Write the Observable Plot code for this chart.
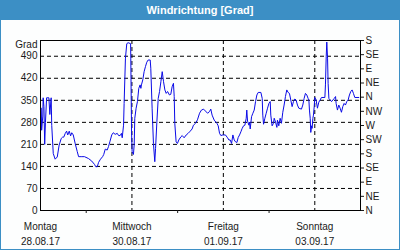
<!DOCTYPE html>
<html><head><meta charset="utf-8">
<script src="https://cdn.jsdelivr.net/npm/d3@7"></script>
<script src="https://cdn.jsdelivr.net/npm/@observablehq/plot@0.6"></script>
<style>
html,body{margin:0;padding:0;background:#fff;}
#wrap{position:relative;width:400px;height:250px;background:#fdfefe;overflow:hidden;font-family:"Liberation Sans",Arial,sans-serif;}
#title{position:absolute;left:0;top:0;width:400px;height:20px;background:#3c8fc5;color:#fff;font-weight:bold;font-size:11px;line-height:20px;text-align:center;}
#chart{position:absolute;left:0;top:20px;}
#border{position:absolute;left:0;top:0;width:400px;height:250px;border:1px solid #3c8fc5;box-sizing:border-box;pointer-events:none;}
</style></head><body>
<div id="wrap"><div id="title">Windrichtung [Grad]</div><div id="chart"></div><div id="border"></div></div>
<script>
// hours since Mon 28.08.17 00:00, wind direction in degrees
const windSeries = [
[0.4,325],[0.6,255],[1.2,300],[1.4,358],[1.8,330],[2.2,210],[2.6,280],[3.2,358],[4.4,358],[4.9,305],
[5.6,358],[5.9,270],[6.7,181],[7.7,163],[8.8,170],[9.8,208],[10.9,229],[11.6,233],[12.2,233],[13.0,245],
[13.7,252],[14.3,240],[15.1,252],[15.8,237],[16.4,247],[17.2,240],[18.2,213],[19.3,187],[20.0,171],[21.7,171],
[23.1,171],[25.2,165],[26.9,157],[28.4,146],[29.0,139],[29.8,139],[30.5,153],[31.5,163],[32.6,171],[33.2,178],
[34.0,195],[35.0,192],[35.7,203],[36.4,218],[37.4,240],[38.2,247],[39.2,242],[40.3,245],[41.0,238],
[41.8,238],[42.5,245],[42.9,231],[43.6,271],[43.9,340],[44.6,484],[45.3,530],[46.0,533],[47.3,530],[47.4,484],
[47.8,250],[48.1,187],[48.8,178],[49.2,210],[49.5,293],[50.2,325],[50.9,346],[51.6,388],[52.3,399],[52.7,388],
[53.0,399],[53.7,415],[54.4,441],[55.1,457],[55.8,471],[56.5,478],[57.6,478],[57.9,452],[58.6,325],[59.3,213],
[60.0,155],[60.4,197],[61.1,282],[61.8,356],[62.5,378],[63.2,409],[63.9,441],[64.6,409],[65.3,383],[66.0,372],
[66.7,378],[67.7,367],[68.4,369],[69.1,393],[69.8,404],[70.2,362],[70.5,277],[71.2,218],[71.9,213],[72.6,224],
[73.7,234],[74.4,238],[75.4,231],[76.5,240],[77.5,245],[78.6,252],[79.6,259],[80.3,271],[81.4,277],[82.4,288],
[83.5,309],[84.5,319],[85.6,322],[86.6,316],[87.7,309],[88.7,314],[89.4,322],[90.1,303],[91.2,287],[92.6,277],
[93.3,269],[94.0,245],[94.7,238],[95.7,240],[97.1,240],[98.2,231],[98.9,224],[99.6,224],[100.3,213],[101.0,240],
[101.7,224],[102.4,218],[103.1,216],[103.8,232],[104.5,240],[105.2,250],[105.9,261],[106.6,269],[107.3,271],[108.0,293],
[108.3,319],[108.7,284],[109.4,271],[109.7,281],[110.1,259],[110.8,298],[111.5,309],[112.2,319],[112.9,346],[113.6,367],
[114.3,375],[115.7,375],[116.4,356],[116.7,303],[117.1,274],[117.8,293],[118.5,309],[119.2,325],[119.9,340],[120.6,346],
[120.9,303],[121.6,269],[122.3,277],[122.7,293],[123.4,281],[124.1,264],
[124.4,287],[125.1,269],[125.8,293],[126.5,277],[127.2,312],[127.9,335],[128.6,362],[129.3,383],[130.0,375],[130.7,372],
[131.4,351],[132.1,330],[132.8,346],[133.5,354],[134.2,351],[134.9,335],[135.6,325],[137.0,322],[137.7,335],[138.4,356],
[139.1,372],[139.8,367],[140.5,356],[140.9,351],[141.2,319],[141.6,293],[141.9,248],[142.3,269],[142.6,261],[143.0,293],
[143.3,303],[143.7,330],[144.0,359],[144.7,351],[145.4,325],[146.1,344],[146.8,351],[147.5,359],[149.3,359],[149.6,399],
[150.0,489],[150.3,535],[150.7,484],[151.0,404],[151.4,356],[152.1,351],[152.8,346],[153.5,351],[154.2,356],[154.9,362],
[155.2,340],[155.9,319],[156.6,335],[157.3,325],[158.0,312],[158.7,330],[159.4,340],[160.1,335],[160.8,346],[161.5,351],
[162.2,367],[162.9,378],[163.6,383],[164.3,372],[165.0,359],[167.1,359]
];
const leftTicks = [0, 70, 140, 210, 280, 350, 420, 490];
const compassTicks = [0, 45, 90, 135, 180, 225, 270, 315, 360, 405, 450, 495, 540];
const compassLabels = ["N","NE","E","SE","S","SW","W","NW","N","NE","E","SE","S"];
const dayTicks = [0, 48, 96, 144];
const dayNames = ["Montag", "Mittwoch", "Freitag", "Sonntag"];
const dayDates = ["28.08.17", "30.08.17", "01.09.17", "03.09.17"];
const minorTicks = [24, 72, 120];
const unitLabel = ["Grad"];

const data = windSeries.map(([h, v]) => ({h, v}));
const dash = {stroke: "#000", strokeOpacity: 1, strokeWidth: 1, strokeDasharray: "4,3"};

const plot = Plot.plot({
  width: 400, height: 230,
  marginLeft: 40, marginRight: 40, marginTop: 20, marginBottom: 40,
  style: {background: "transparent", fontFamily: "Liberation Sans, Arial, sans-serif", fontSize: "10px", color: "#1a1a1a", overflow: "visible"},
  x: {domain: [0, 168]},
  y: {domain: [0, 540]},
  marks: [
    Plot.gridY(leftTicks.filter(d => d > 0), dash),
    Plot.gridX(dayTicks.filter(d => d > 0), dash),
    Plot.line(data, {x: "h", y: "v", stroke: "#0a0ae6", strokeWidth: 1}),
    Plot.frame({stroke: "#000", strokeWidth: 1}),
    Plot.axisY(leftTicks, {anchor: "left", tickSize: 0, tickPadding: 3, label: null}),
    Plot.axisY(compassTicks, {anchor: "right", tickSize: 3, tickPadding: 2, label: null,
      tickFormat: d => compassLabels[compassTicks.indexOf(d)]}),
    Plot.axisX(dayTicks, {anchor: "bottom", tickSize: 0, tickPadding: 9, lineHeight: 1.5, label: null,
      tickFormat: d => dayNames[dayTicks.indexOf(d)] + "\n" + dayDates[dayTicks.indexOf(d)]}),
    Plot.axisX(minorTicks, {anchor: "bottom", tickSize: 3, tickFormat: () => "", label: null}),
    Plot.text(unitLabel, {frameAnchor: "top-left", textAnchor: "end", lineAnchor: "top", dx: -3, dy: 0, fill: "#1a1a1a"})
  ]
});
document.getElementById("chart").appendChild(plot);
</script></body></html>
